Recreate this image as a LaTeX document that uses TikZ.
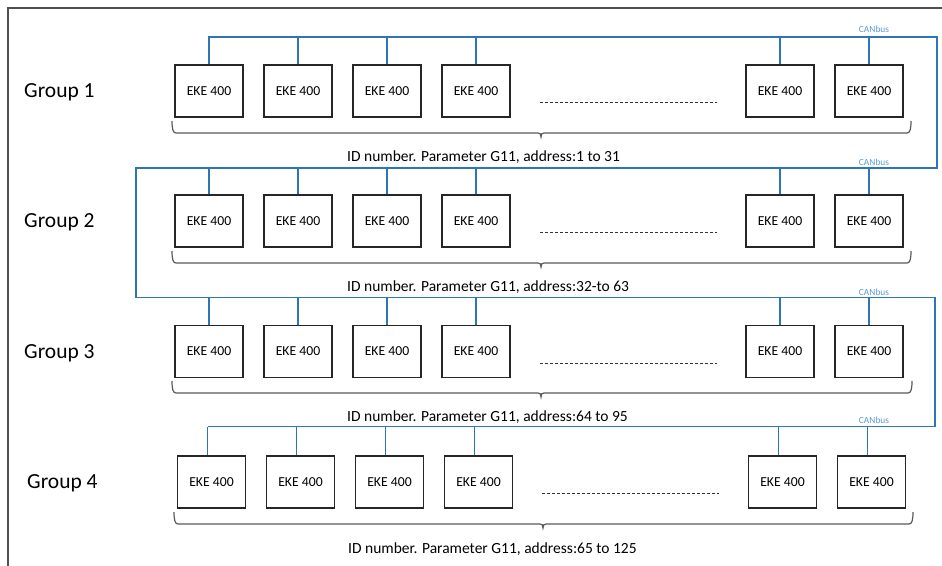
\documentclass[tikz,border=0pt]{standalone}
\usepackage{fontspec}
\setmainfont{Carlito}
\definecolor{busblue}{HTML}{2E75B6}
\definecolor{canlbl}{HTML}{5B9BD5}
\definecolor{framegray}{HTML}{505050}
\definecolor{bracegray}{HTML}{595959}
\begin{document}
\begin{tikzpicture}[x=1pt,y=-1pt,
  eke/.style={draw=black!85, line width=1.1pt, minimum width=68pt, minimum height=52pt, inner sep=0pt, font=\fontsize{13.7}{15}\selectfont},
  busline/.style={draw=busblue, line width=1.1pt},
  canbus/.style={text=canlbl, font=\fontsize{9.4}{10}\selectfont, inner sep=0pt},
  grouplbl/.style={anchor=base west, inner sep=0pt, font=\fontsize{21.5}{23}\selectfont},
  idlbl/.style={anchor=base west, inner sep=0pt, font=\fontsize{15.5}{17}\selectfont},
  bracepath/.style={draw=bracegray, line width=1.2pt},
  dotline/.style={draw=black!80, line width=0.8pt, dash pattern=on 3pt off 2pt},
  framepath/.style={draw=framegray, line width=2pt}]
\useasboundingbox (0,0) rectangle (942,565);
% frame
\draw[framepath] (8,566) -- (8,8) -- (943,8);

% boxes
\foreach \g/\yy/\dx in {1/91/0, 2/221/0, 3/351.5/0, 4/482/2.5}{
  \foreach \i/\xx in {1/209, 2/298, 3/387, 4/476, 5/780, 6/869}{
    \node[eke] (b\g\i) at (\xx+\dx,\yy) {EKE 400};
  }
}

% bus coordinates
\coordinate (p1) at (208,37);
\coordinate (p2) at (937,37);
\coordinate (p3) at (937,168);
\coordinate (p4) at (136,168);
\coordinate (p5) at (136,297.5);
\coordinate (p6) at (935,297.5);
\coordinate (p7) at (935,426.5);
\coordinate (p8) at (207.5,426.5);
\draw[busline] (p1) -- (p2) -- (p3) -- (p4) -- (p5) -- (p6) -- (p7) -- (p8);

% drops
\foreach \i in {1,...,6}{
  \draw[busline] (b1\i.north) -- (b1\i.north |- p1);
  \draw[busline] (b2\i.north) -- (b2\i.north |- p3);
  \draw[busline] (b3\i.north) -- (b3\i.north |- p5);
  \draw[busline] ([xshift=-4pt]b4\i.north) -- ([xshift=-4pt]b4\i.north |- p7);
}

% CANbus labels
\node[canbus] (cb1) at (874,29) {CANbus};
\node[canbus] (cb2) at (874,162) {CANbus};
\node[canbus] (cb3) at (874,292) {CANbus};
\node[canbus] (cb4) at (874,420) {CANbus};

% group labels
\node[grouplbl] (gl1) at (24,97) {Group 1};
\node[grouplbl] (gl2) at (24,227.5) {Group 2};
\node[grouplbl] (gl3) at (24,358) {Group 3};
\node[grouplbl] (gl4) at (27,488) {Group 4};

% dotted lines
\foreach \yy/\dx in {102/0, 232/0, 363/0, 493/2}{
  \draw[dotline] (540+\dx,\yy) -- (717+\dx,\yy);
}

% braces
\foreach \T/\l/\r/\m in {121/172/911/541, 251/172/911/541, 381/172/912/541, 512/174/913/543}{
  \draw[bracepath] (\l,\T) .. controls (\l,\T+8) and (\l+1,\T+12) .. (\l+4,\T+12)
    -- (\m-3,\T+12) .. controls (\m-1,\T+12) and (\m,\T+13) .. (\m,\T+16)
    .. controls (\m,\T+13) and (\m+1,\T+12) .. (\m+3,\T+12)
    -- (\r-4,\T+12) .. controls (\r-1,\T+12) and (\r,\T+8) .. (\r,\T);
}

% ID labels
\node[idlbl] (id1) at (347,161) {ID number. Parameter G11, address:1 to 31};
\node[idlbl] (id2) at (347,291) {ID number. Parameter G11, address:32-to 63};
\node[idlbl] (id3) at (347,421) {ID number. Parameter G11, address:64 to 95};
\node[idlbl] (id4) at (348,553) {ID number. Parameter G11, address:65 to 125};
\end{tikzpicture}
\end{document}
